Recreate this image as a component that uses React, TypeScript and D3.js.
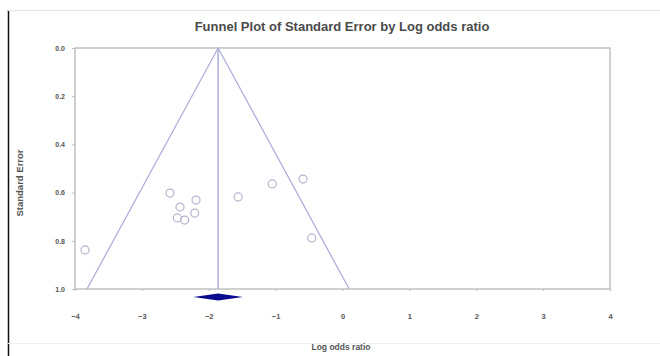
import React, { useEffect, useRef } from 'react';
import * as d3 from 'd3';

// study estimates
const logOdds = [-2.58, -2.43, -2.19, -2.47, -2.36, -2.21, -1.56, -1.05, -0.59, -0.46, -3.85];
const stdErr = [0.602, 0.66, 0.631, 0.705, 0.714, 0.685, 0.618, 0.564, 0.544, 0.788, 0.838];

const pooled = -1.86;
const pooledLow = -2.23;
const pooledHigh = -1.49;

const xTicks = [-4, -3, -2, -1, 0, 1, 2, 3, 4];
const yTicks = [0, 0.2, 0.4, 0.6, 0.8, 1.0];

const App = () => {
    const ref = useRef<SVGSVGElement>(null);

    useEffect(() => {
        const svg = d3.select(ref.current);
        svg.selectAll("*").remove();

        const left = 75, right = 610, top = 48, bottom = 289;
        const x = d3.scaleLinear().domain([-4, 4]).range([left, right]);
        const y = d3.scaleLinear().domain([0, 1]).range([top, bottom]);
        const font = "'Liberation Sans', Arial, sans-serif";

        // outer frame
        svg.append("rect").attr("x", 0).attr("y", 0).attr("width", 660).attr("height", 356).attr("fill", "#fff");
        svg.append("line").attr("x1", 8.5).attr("x2", 8.5).attr("y1", 10).attr("y2", 356)
            .attr("stroke", "#111").attr("stroke-width", 1.5);
        svg.append("line").attr("x1", 8).attr("x2", 660).attr("y1", 10.5).attr("y2", 10.5)
            .attr("stroke", "#e4e4e4");
        svg.append("line").attr("x1", 8).attr("x2", 660).attr("y1", 343.5).attr("y2", 343.5)
            .attr("stroke", "#f0f0f0");

        svg.append("text").attr("x", 342).attr("y", 31).attr("text-anchor", "middle")
            .attr("font-family", font).attr("font-weight", "bold").attr("font-size", 13)
            .attr("fill", "#4a4a4a").text("Funnel Plot of Standard Error by Log odds ratio");

        // plot box
        svg.append("rect").attr("x", left).attr("y", top).attr("width", right - left).attr("height", bottom - top)
            .attr("fill", "none").attr("stroke", "#bcbcbc").attr("stroke-width", 1.4);

        const xAxis = svg.append("g").attr("transform", `translate(0,${bottom})`)
            .call(d3.axisBottom(x).tickValues(xTicks).tickSize(2).tickPadding(23).tickFormat(d3.format("d")));
        xAxis.select(".domain").remove();
        xAxis.selectAll("line").attr("stroke", "#bbb");
        xAxis.selectAll("text").attr("font-family", font).attr("font-size", 7.5).attr("font-weight", "bold").attr("fill", "#555");

        const yAxis = svg.append("g").attr("transform", `translate(${left},0)`)
            .call(d3.axisLeft(y).tickValues(yTicks).tickSize(3).tickPadding(7).tickFormat(d3.format(".1f")));
        yAxis.select(".domain").remove();
        yAxis.selectAll("line").attr("stroke", "#bbb");
        yAxis.selectAll("text").attr("font-family", font).attr("font-size", 7).attr("font-weight", "bold").attr("fill", "#555");

        svg.append("text").attr("transform", `translate(23,183) rotate(-90)`).attr("text-anchor", "middle")
            .attr("font-family", font).attr("font-weight", "bold").attr("font-size", 9.5)
            .attr("fill", "#555").text("Standard Error");
        svg.append("text").attr("x", 341).attr("y", 350).attr("text-anchor", "middle")
            .attr("font-family", font).attr("font-weight", "bold").attr("font-size", 8.5)
            .attr("fill", "#555").text("Log odds ratio");

        // funnel
        const funnel = d3.line<[number, number]>().x(d => x(d[0])).y(d => y(d[1]));
        svg.append("path")
            .attr("d", funnel([[pooled - 1.96, 1], [pooled, 0], [pooled + 1.96, 1]]))
            .attr("fill", "none").attr("stroke", "#afafdc").attr("stroke-width", 1.3);
        svg.append("line").attr("x1", x(pooled)).attr("x2", x(pooled)).attr("y1", y(0)).attr("y2", y(1))
            .attr("stroke", "#afafdc").attr("stroke-width", 1.6);

        // studies
        svg.selectAll(".pt").data(logOdds).enter().append("circle")
            .attr("cx", d => x(d)).attr("cy", (d, i) => y(stdErr[i])).attr("r", 4)
            .attr("fill", "none").attr("stroke", "#b4b4d0").attr("stroke-width", 1.2);

        // pooled diamond
        const dy = bottom + 8;
        svg.append("path")
            .attr("d", `M${x(pooledLow)},${dy} L${x(pooled)},${dy - 3.5} L${x(pooledHigh)},${dy} L${x(pooled)},${dy + 3.5} Z`)
            .attr("fill", "#0a0a8c");
    }, []);

    return <svg ref={ref} width={660} height={356} style={{ position: 'absolute', left: 0, top: 0 }} />;
};

export default App;
